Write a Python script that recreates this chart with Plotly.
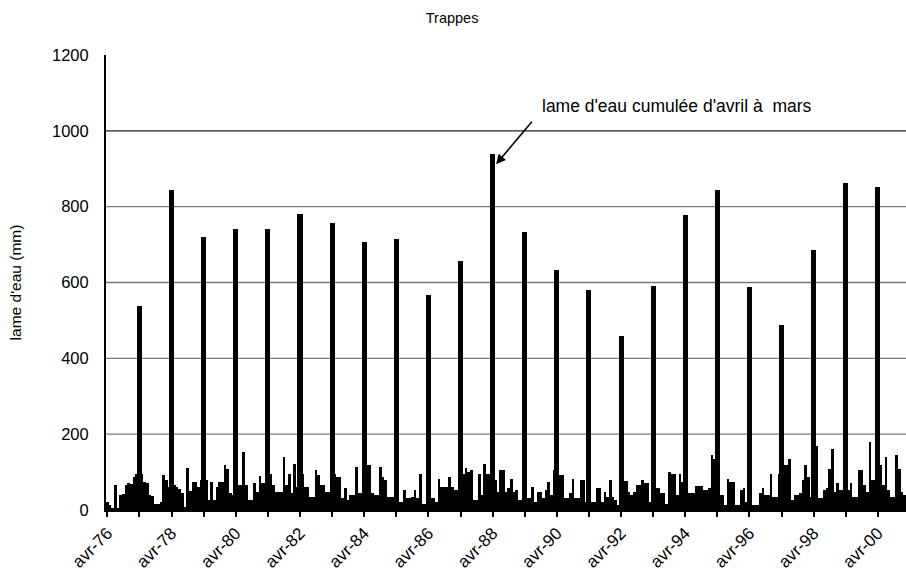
import plotly.graph_objects as go

# Monthly water depth (mm), month index 0 = avr-76
monthly = [
    20, 12, 3, 67, 5, 40, 42, 65, 72, 68, 88, 95,
    96, 96, 75, 70, 40, 38, 17, 15, 20, 92, 80, 60,
    66, 66, 60, 55, 44, 9, 112, 50, 74, 74, 60, 79,
    79, 78, 26, 74, 26, 60, 74, 74, 118, 109, 44, 40,
    66, 66, 66, 153, 66, 26, 26, 70, 48, 89, 70, 70,
    96, 96, 66, 48, 48, 48, 140, 66, 96, 44, 122, 60,
    96, 96, 61, 61, 35, 35, 105, 92, 66, 66, 48, 48,
    50, 96, 87, 87, 31, 57, 26, 39, 39, 114, 44, 44,
    118, 118, 118, 44, 39, 39, 114, 87, 79, 35, 35, 35,
    22, 22, 22, 52, 31, 31, 35, 52, 31, 94, 17, 17,
    31, 31, 31, 22, 83, 61, 61, 61, 87, 60, 52, 52,
    96, 96, 112, 100, 105, 26, 26, 96, 39, 122, 96, 96,
    79, 79, 48, 105, 105, 48, 57, 83, 48, 54, 26, 26,
    31, 31, 31, 61, 22, 48, 48, 31, 52, 74, 39, 105,
    92, 92, 92, 31, 31, 44, 83, 31, 31, 79, 79, 22,
    30, 22, 22, 57, 57, 22, 48, 35, 79, 35, 26, 13,
    77, 77, 77, 48, 39, 48, 66, 66, 79, 70, 70, 22,
    57, 57, 57, 44, 44, 17, 100, 96, 96, 39, 96, 74,
    79, 44, 44, 44, 63, 63, 63, 52, 52, 57, 144, 135,
    83, 39, 39, 13, 83, 74, 74, 13, 13, 52, 57, 22,
    22, 13, 13, 13, 44, 57, 39, 39, 96, 35, 35, 96,
    96, 118, 118, 135, 26, 39, 39, 44, 79, 118, 87, 35,
    35, 170, 31, 31, 52, 57, 109, 162, 48, 70, 52, 52,
    52, 52, 70, 35, 35, 105, 105, 66, 48, 179, 79, 79,
    79, 118, 66, 140, 52, 35, 35, 144, 109, 48, 39,
]

# Cumulative April-March totals (mm), plotted at the following April
cumul_years = list(range(1977, 2001))
cumul = [539, 843, 721, 741, 741, 780, 756, 708, 716, 568, 658, 938,
         734, 634, 579, 459, 592, 779, 845, 587, 489, 686, 863, 852]

tick_labels = ["avr-76", "avr-78", "avr-80", "avr-82", "avr-84", "avr-86", "avr-88",
               "avr-90", "avr-92", "avr-94", "avr-96", "avr-98", "avr-00"]
grid_vals = [200, 400, 600, 800, 1000]

month_idx = list(range(len(monthly)))
cumul_idx = [(y - 1976) * 12 for y in cumul_years]
tick_idx = [i * 24 for i in range(len(tick_labels))]

FONT = "Liberation Sans, Arial, sans-serif"

fig = go.Figure()
fig.add_trace(go.Bar(x=month_idx, y=monthly, width=1.0,
                     marker=dict(color="black", line=dict(width=0)),
                     showlegend=False, hoverinfo="skip"))
fig.add_trace(go.Bar(x=cumul_idx, y=cumul, width=1.9,
                     marker=dict(color="black", line=dict(width=0)),
                     showlegend=False))

for g in grid_vals:
    fig.add_shape(type="line", xref="paper", yref="y", x0=0, x1=1, y0=g, y1=g,
                  line=dict(color="#222222" if g == 1000 else "#7a7a7a", width=1.3),
                  layer="below")

peak_i = cumul.index(max(cumul))
fig.add_annotation(x=cumul_idx[peak_i] + 1.3, y=cumul[peak_i] - 26, xref="x", yref="y",
                   text="", showarrow=True, ax=37, ay=-44, arrowhead=2,
                   arrowsize=1.2, arrowwidth=1.6, arrowcolor="black", standoff=0)
fig.add_annotation(x=0.5425, y=0.888, xref="paper", yref="paper",
                   text="lame d'eau cumulée d'avril à&nbsp;&nbsp;mars", showarrow=False,
                   xanchor="left", yanchor="middle",
                   font=dict(family=FONT, size=17.5, color="black"))

fig.update_layout(
    width=906, height=577,
    margin=dict(l=106, r=0, t=55, b=67),
    plot_bgcolor="white", paper_bgcolor="white",
    barmode="overlay", bargap=0,
    title=dict(text="Trappes", x=0.499, xanchor="center", y=1 - 18 / 577, yanchor="middle",
               font=dict(family=FONT, size=14.5, color="black")),
    font=dict(family=FONT, size=16, color="black"),
)
fig.update_xaxes(
    range=[-0.5, 298.5], tickvals=tick_idx, ticktext=tick_labels, tickangle=-45,
    ticks="outside", ticklen=5, tickcolor="black", tickwidth=1.5,
    minor=dict(dtick=12, tick0=0, ticks="outside", ticklen=5, tickcolor="black", tickwidth=1.5),
    showline=True, linecolor="black", linewidth=1.5, showgrid=False, zeroline=False,
    tickfont=dict(family=FONT, size=17, color="black"),
)
fig.update_yaxes(
    range=[0, 1200], dtick=200, tick0=0, showgrid=False, zeroline=False,
    showline=True, linecolor="black", linewidth=2, ticks="", ticklabelstandoff=12,
    tickfont=dict(family=FONT, size=16.5, color="black"),
    title=dict(text="lame d'eau (mm)", standoff=27, font=dict(family=FONT, size=15.5, color="black")),
)

fig.write_html("out.html")
